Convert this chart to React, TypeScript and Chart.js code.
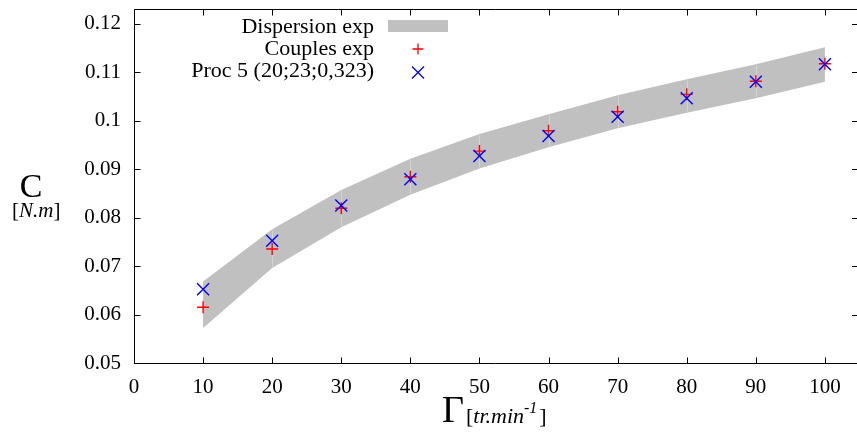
import React, { useEffect, useRef } from "react";
import { Chart, registerables } from "chart.js";

Chart.register(...registerables);

// ---- data ----
const speeds = [10, 20, 30, 40, 50, 60, 70, 80, 90, 100];
const couplesExp = [0.0615, 0.0735, 0.0819, 0.0884, 0.0937, 0.0979, 0.1018, 0.1054, 0.1081, 0.1117];
const proc5 = [0.0652, 0.0752, 0.0825, 0.0879, 0.0927, 0.0968, 0.1008, 0.1046, 0.108, 0.1116];
const dispLow = [0.0572, 0.0696, 0.078, 0.0847, 0.0901, 0.0945, 0.0984, 0.1016, 0.1046, 0.108];
const dispHigh = [0.0668, 0.0776, 0.0857, 0.0921, 0.0972, 0.1013, 0.1052, 0.1085, 0.1116, 0.1151];
const legendLabels = ["Dispersion exp", "Couples exp", "Proc 5 (20;23;0,323)"];
const yTitle = "C";
const yUnit = "[N.m]";
const xTitle = "Γ";
const xUnitMain = "tr.min";
const xUnitSup = "-1";

const SERIF = '"Liberation Serif", "DejaVu Serif", serif';

const pts = (ys: number[]) => speeds.map((x, i) => ({ x, y: ys[i] }));

const seamPlugin = {
  id: "seams",
  beforeDatasetDraw(chart: any, args: any) {
    if (args.index !== 1) return;
    const { ctx, scales } = chart;
    ctx.save();
    ctx.strokeStyle = "#d4d4d4";
    ctx.lineWidth = 1;
    ctx.beginPath();
    speeds.slice(1, -1).forEach((s, j) => {
      const i = j + 1;
      const px = Math.round(scales.x.getPixelForValue(s)) + 0.5;
      ctx.moveTo(px, scales.y.getPixelForValue(dispHigh[i]) + 1);
      ctx.lineTo(px, scales.y.getPixelForValue(dispLow[i]) - 1);
    });
    ctx.stroke();
    ctx.restore();
  },
};

const framePlugin = {
  id: "frame",
  afterDraw(chart: any) {
    const { ctx, chartArea: a, scales } = chart;
    const xs = scales.x;
    const ys = scales.y;
    ctx.save();
    ctx.strokeStyle = "#000";
    ctx.lineWidth = 1;
    ctx.beginPath();
    const L = Math.round(a.left) + 0.5;
    const Tp = Math.round(a.top) + 0.5;
    const B = Math.round(a.bottom) + 0.5;
    const R = 857;
    ctx.moveTo(L, Tp);
    ctx.lineTo(R, Tp);
    ctx.moveTo(L, B);
    ctx.lineTo(R, B);
    ctx.moveTo(L, Tp);
    ctx.lineTo(L, B);
    const T = 6;
    xs.ticks.forEach((t: any) => {
      const px = Math.round(xs.getPixelForValue(t.value)) + 0.5;
      ctx.moveTo(px, B);
      ctx.lineTo(px, B - T);
      ctx.moveTo(px, Tp);
      ctx.lineTo(px, Tp + T);
    });
    ys.ticks.forEach((t: any) => {
      const py = Math.round(ys.getPixelForValue(t.value)) + 0.5;
      ctx.moveTo(L, py);
      ctx.lineTo(L + T, py);
      ctx.moveTo(R, py);
      ctx.lineTo(R - 5, py);
    });
    ctx.stroke();

    // legend
    ctx.fillStyle = "#000";
    ctx.font = `22px ${SERIF}`;
    ctx.textAlign = "right";
    ctx.textBaseline = "alphabetic";
    ctx.fillText(legendLabels[0], 374, 33);
    ctx.fillText(legendLabels[1], 374, 55);
    ctx.fillText(legendLabels[2], 374, 77);
    ctx.fillStyle = "#c0c0c0";
    ctx.fillRect(388, 20, 60, 12);
    ctx.lineWidth = 1.3;
    ctx.strokeStyle = "#ff0000";
    ctx.beginPath();
    ctx.moveTo(412.5, 49);
    ctx.lineTo(423.5, 49);
    ctx.moveTo(418, 43.5);
    ctx.lineTo(418, 54.5);
    ctx.stroke();
    ctx.strokeStyle = "#0000ff";
    ctx.beginPath();
    ctx.moveTo(412, 66.5);
    ctx.lineTo(424, 78.5);
    ctx.moveTo(424, 66.5);
    ctx.lineTo(412, 78.5);
    ctx.stroke();

    // axis titles
    ctx.fillStyle = "#000";
    ctx.textAlign = "center";
    ctx.font = `34px ${SERIF}`;
    ctx.fillText(yTitle, 31, 197);
    ctx.textAlign = "left";
    let x = 12;
    ctx.font = `21px ${SERIF}`;
    ctx.fillText("[", x, 217);
    x += ctx.measureText("[").width;
    ctx.font = `italic 21px ${SERIF}`;
    ctx.fillText(yUnit.slice(1, -1), x, 217);
    x += ctx.measureText(yUnit.slice(1, -1)).width;
    ctx.font = `21px ${SERIF}`;
    ctx.fillText("]", x, 217);

    x = 442;
    ctx.font = `38px ${SERIF}`;
    ctx.fillText(xTitle, x, 422);
    x += ctx.measureText(xTitle).width + 2;
    ctx.font = `22px ${SERIF}`;
    ctx.fillText("[", x, 423);
    x += ctx.measureText("[").width;
    ctx.font = `italic 22px ${SERIF}`;
    ctx.fillText(xUnitMain, x, 423);
    x += ctx.measureText(xUnitMain).width;
    ctx.font = `italic 16px ${SERIF}`;
    ctx.fillText(xUnitSup, x, 413);
    x += ctx.measureText(xUnitSup).width + 2;
    ctx.font = `22px ${SERIF}`;
    ctx.fillText("]", x, 423);
    ctx.restore();
  },
};

export default function App() {
  const ref = useRef<HTMLCanvasElement | null>(null);
  useEffect(() => {
    if (!ref.current) return;
    const chart = new Chart(ref.current, {
      type: "line",
      data: {
        datasets: [
          {
            label: legendLabels[2],
            data: pts(proc5),
            showLine: false,
            pointStyle: "crossRot",
            pointRadius: 8.5,
            pointBorderColor: "#0000ff",
            pointBorderWidth: 1.4,
            pointBackgroundColor: "#0000ff",
          },
          {
            label: legendLabels[1],
            data: pts(couplesExp),
            showLine: false,
            pointStyle: "cross",
            pointRadius: 6,
            pointBorderColor: "#ff0000",
            pointBorderWidth: 1.4,
            pointBackgroundColor: "#ff0000",
          },
          {
            label: legendLabels[0],
            data: pts(dispHigh),
            borderWidth: 0,
            pointRadius: 0,
            tension: 0,
            borderColor: "rgba(0,0,0,0)",
            backgroundColor: "#c0c0c0",
            fill: "+1",
          },
          {
            label: legendLabels[0] + " (low)",
            data: pts(dispLow),
            borderWidth: 0,
            pointRadius: 0,
            tension: 0,
            borderColor: "rgba(0,0,0,0)",
            backgroundColor: "#c0c0c0",
            fill: false,
          },
        ],
      },
      options: {
        animation: false,
        responsive: false,
        layout: { autoPadding: false, padding: { left: 0, top: 9, right: 1, bottom: 0 } },
        plugins: { legend: { display: false }, tooltip: { enabled: false } },
        scales: {
          x: {
            type: "linear",
            min: 0,
            max: 104.5,
            grid: { display: false, drawTicks: false },
            border: { display: false },
            ticks: {
              stepSize: 10,
              includeBounds: false,
              padding: 12,
              color: "#000",
              font: { family: SERIF, size: 21 },
              maxRotation: 0,
            },
            afterFit: (s: any) => {
              s.height = 78;
              s.paddingLeft = 0;
              s.paddingRight = 0;
              s.paddingTop = 0;
              s.paddingBottom = 0;
            },
          },
          y: {
            type: "linear",
            min: 0.05,
            max: 0.123,
            grid: { display: false, drawTicks: false },
            border: { display: false },
            ticks: {
              stepSize: 0.01,
              includeBounds: false,
              padding: 13,
              color: "#000",
              font: { family: SERIF, size: 21 },
              callback: (v: any) => String(Number(Number(v).toFixed(2))),
            },
            afterFit: (s: any) => {
              s.width = 134;
              s.paddingLeft = 0;
              s.paddingRight = 0;
              s.paddingTop = 0;
              s.paddingBottom = 0;
            },
          },
        },
      },
      plugins: [seamPlugin, framePlugin],
    } as any);
    return () => chart.destroy();
  }, []);
  return (
    <div style={{ position: "absolute", left: 0, top: 0, width: 857, height: 441, background: "#fff" }}>
      <canvas ref={ref} width={857} height={441} style={{ display: "block" }} />
    </div>
  );
}
